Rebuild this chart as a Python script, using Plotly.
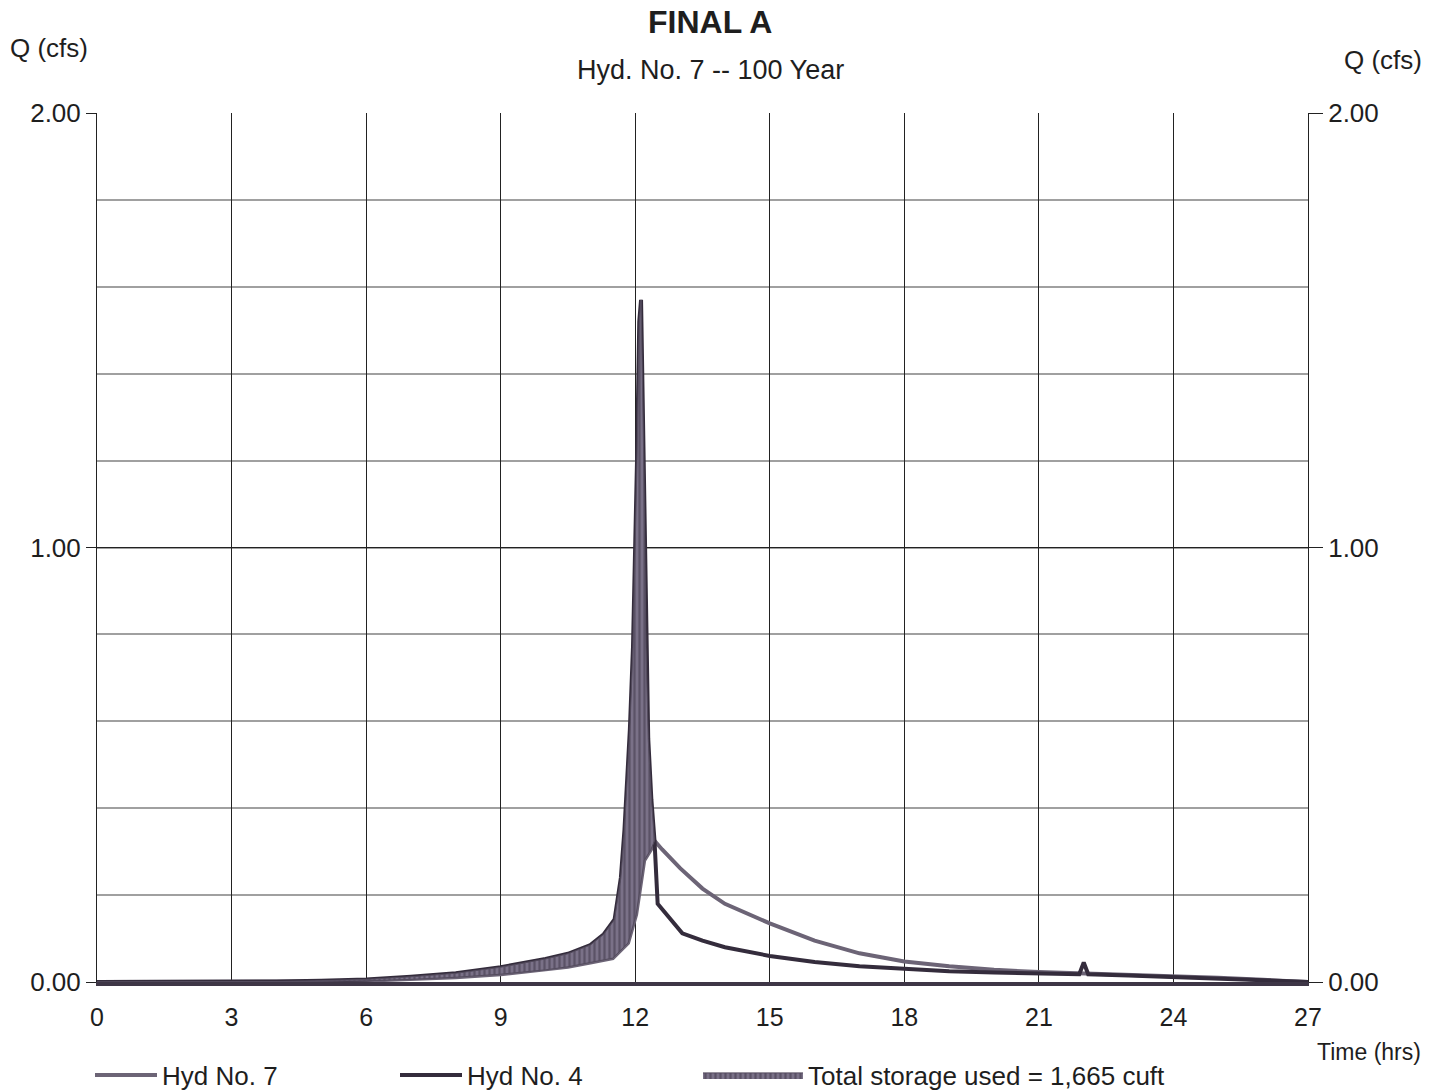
import plotly.graph_objects as go

# ---- data ----
hyd4_t = [0, 3, 4, 5, 6, 7, 8, 9, 9.5, 10, 10.5, 11, 11.3, 11.54, 11.68, 11.76, 11.88, 11.95, 12.04, 12.09, 12.13,
          12.19, 12.24, 12.29, 12.36, 12.43, 12.5, 13.05, 13.5, 14, 15, 16, 17, 18, 19, 20, 21, 21.9, 22.0, 22.1,
          23, 24, 25, 26, 27]
hyd4_q = [0, 0, 0.001, 0.003, 0.006, 0.012, 0.02, 0.034, 0.043, 0.053, 0.065, 0.085, 0.11, 0.144, 0.24, 0.35, 0.58,
          0.77, 1.2, 1.52, 1.57,
          1.2, 0.77, 0.56, 0.42, 0.325, 0.18, 0.112, 0.095, 0.08, 0.06, 0.046, 0.036, 0.03, 0.025, 0.022, 0.02, 0.018,
          0.045, 0.018, 0.015, 0.012, 0.008, 0.004, 0.0]

hyd7_t = [0, 4, 5, 6, 7, 8, 9, 10, 10.5, 11, 11.5, 11.84, 12.02, 12.1, 12.2, 12.35, 12.43, 12.6, 13.0, 13.5, 14, 15,
          16, 17, 18, 19, 20, 21, 22, 23, 24, 25, 26, 27]
hyd7_q = [0, 0, 0.001, 0.003, 0.006, 0.011, 0.018, 0.028, 0.035, 0.045, 0.055, 0.09, 0.155, 0.21, 0.28, 0.305,
          0.325, 0.305, 0.262, 0.215, 0.18, 0.135, 0.095, 0.066, 0.047, 0.036, 0.028, 0.023, 0.02, 0.017, 0.015,
          0.01, 0.005, 0.0]

storage_end = 12.43  # inflow meets outflow
storage_label = "Total storage used = 1,665 cuft"

title = "FINAL A"
subtitle = "Hyd. No. 7 -- 100 Year"
x_ticks = [0, 3, 6, 9, 12, 15, 18, 21, 24, 27]
y_ticks = [0, 1, 2]

# ---- storage polygon: inflow forward, outflow back ----
poly_t = [t for t in hyd4_t if t <= storage_end] + [t for t in reversed(hyd7_t) if t <= storage_end]
poly_q = [q for t, q in zip(hyd4_t, hyd4_q) if t <= storage_end] + \
         [q for t, q in zip(reversed(hyd7_t), reversed(hyd7_q)) if t <= storage_end]

FONT = "Liberation Sans, Arial, sans-serif"
C4 = "#342c3c"
C7 = "#6c6476"
TXT = "#1e1e1e"

W, H = 1448, 1090
# plot area in window pixels
L, R, T, B = 97, 1308, 113, 982


def px(xp):
    return (xp - L) / (R - L)


def py(yp):
    return (B - yp) / (B - T)


fig = go.Figure()
fig.add_trace(go.Scatter(x=hyd7_t, y=hyd7_q, mode="lines", name="Hyd No. 7", legend="legend",
                         line=dict(color=C7, width=4)))
fig.add_trace(go.Scatter(x=hyd4_t, y=hyd4_q, mode="lines", name="Hyd No. 4", legend="legend2",
                         line=dict(color=C4, width=4)))
fig.add_trace(go.Scatter(x=poly_t, y=poly_q, mode="lines", fill="toself", name=storage_label, legend="legend3",
                         line=dict(color="#544c5e", width=1),
                         fillcolor="rgba(105,95,118,0.95)",
                         fillpattern=dict(shape="|", fgcolor="#3c3446", bgcolor="#7a7188", size=5, solidity=0.45)))
fig.add_trace(go.Scatter(x=[0, 27], y=[0, 0], yaxis="y2", mode="lines", showlegend=False,
                         line=dict(color="rgba(0,0,0,0)"), hoverinfo="skip"))

leg_common = dict(orientation="h", yanchor="middle", xanchor="left", bgcolor="rgba(0,0,0,0)",
                  font=dict(family=FONT, size=26, color=TXT), itemwidth=62)

fig.update_layout(
    width=W, height=H,
    margin=dict(l=L, r=W - R, t=T, b=H - B, autoexpand=False),
    paper_bgcolor="white", plot_bgcolor="white",
    font=dict(family=FONT, size=26, color=TXT),
    showlegend=True,
    legend=dict(leg_common, x=px(90), y=py(1075)),
    legend2=dict(leg_common, x=px(395), y=py(1075)),
    legend3=dict(leg_common, x=px(698), y=py(1075), itemwidth=100),
    xaxis=dict(range=[0, 27], tickvals=x_ticks, ticktext=[str(v) for v in x_ticks],
               showgrid=True, gridcolor="#222222", gridwidth=1,
               showline=True, linecolor="#3e3646", linewidth=4, mirror=False,
               ticks="", tickfont=dict(size=25), zeroline=False, ticklabelstandoff=10, automargin=False),
    yaxis=dict(range=[0, 2], tickvals=y_ticks, ticktext=["0.00", "1.00", "2.00"],
               showgrid=True, gridcolor="#222222", gridwidth=1,
               minor=dict(dtick=0.2, showgrid=True, gridcolor="#a0a0a0", gridwidth=2),
               showline=True, linecolor="#222222", linewidth=1, mirror=True,
               ticks="outside", ticklen=10, tickcolor="#222222", tickfont=dict(size=26), zeroline=False,
               automargin=False),
    yaxis2=dict(range=[0, 2], tickvals=y_ticks, ticktext=["0.00", "1.00", "2.00"], overlaying="y", side="right",
                showgrid=False, ticks="outside", ticklen=14, tickcolor="#222222", tickfont=dict(size=26),
                zeroline=False, showline=False, automargin=False),
)

ann = [
    dict(text="<b>" + title + "</b>", x=px(710), y=py(22), size=32),
    dict(text=subtitle, x=px(710), y=py(70), size=27),
    dict(text="Q (cfs)", x=px(49), y=py(48), size=26),
    dict(text="Q (cfs)", x=px(1383), y=py(60), size=26),
    dict(text="Time (hrs)", x=px(1369), y=py(1052), size=23),
]
for a in ann:
    fig.add_annotation(text=a["text"], x=a["x"], y=a["y"], xref="paper", yref="paper",
                       xanchor="center", yanchor="middle", showarrow=False,
                       font=dict(family=FONT, size=a["size"], color=TXT))

fig.write_html("out.html", config={"displayModeBar": False},
               post_script="document.body.style.margin='0';document.body.style.overflow='hidden';")
